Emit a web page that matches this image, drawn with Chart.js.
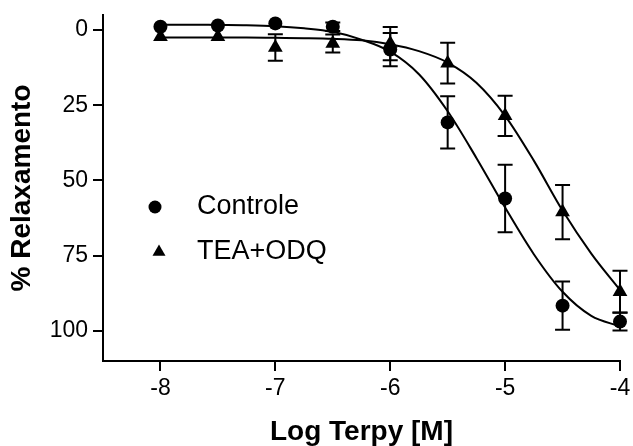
<!DOCTYPE html>
<html>
<head>
<meta charset="utf-8">
<script src="https://cdn.jsdelivr.net/npm/chart.js@4/dist/chart.umd.min.js"></script>
<style>
  html, body { margin: 0; padding: 0; background: #ffffff; }
  #wrap { width: 633px; height: 446px; position: relative; }
</style>
</head>
<body>
<div id="wrap"><canvas id="c" width="633" height="446"></canvas></div>
<script>
// ---------- data ----------
const logConc = [-8, -7.5, -7, -6.5, -6, -5.5, -5, -4.5, -4];
const controleMean = [-1.1, -1.5, -2.2, -1.1, 6.5, 30.7, 56.0, 91.6, 96.9];
const controleSem  = [0, 0, 0, 1.4, 5.5, 8.7, 11.2, 8.0, 3.0];
const teaOdqMean   = [2.2, 2.2, 5.8, 4.5, 4.5, 11.0, 28.5, 60.5, 87.0];
const teaOdqSem    = [0, 0, 4.4, 3.0, 5.5, 6.8, 6.7, 9.0, 7.0];

// fitted curves
const curveX = [-8, -7.75, -7.5, -7.25, -7, -6.75, -6.5, -6.25, -6, -5.75, -5.5, -5.25, -5, -4.75, -4.5, -4.25, -4];
const controleFit = [-1.8, -1.8, -1.7, -1.6, -1.3, -0.6, 0.6, 3.2, 7.2, 14.7, 27.0, 42.5, 59.0, 74.5, 87.0, 95.0, 98.5];
const teaOdqFit   = [2.5, 2.5, 2.5, 2.5, 2.6, 2.7, 2.9, 3.4, 4.7, 7.0, 10.8, 17.5, 28.5, 43.4, 60.0, 74.3, 86.4];

const xTicks = [-8, -7, -6, -5, -4];
const yTicks = [0, 25, 50, 75, 100];
const seriesLabels = ['Controle', 'TEA+ODQ'];
const xTitle = 'Log Terpy [M]';
const yTitle = '% Relaxamento';

// ---------- rendering ----------
const FONT = '"Liberation Sans", Arial, sans-serif';
const toPts = (xs, ys) => xs.map((x, i) => ({ x: x, y: ys[i] }));

const errorBarPlugin = {
  id: 'errorBars',
  beforeDatasetsDraw(chart) {
    const ctx = chart.ctx, xs = chart.scales.x, ys = chart.scales.y;
    ctx.save();
    ctx.strokeStyle = '#000';
    ctx.lineWidth = 2;
    chart.data.datasets.forEach((ds) => {
      if (!ds.sem) return;
      ds.data.forEach((p, j) => {
        const e = ds.sem[j];
        if (!e) return;
        const px = xs.getPixelForValue(p.x);
        const y1 = ys.getPixelForValue(p.y - e);
        const y2 = ys.getPixelForValue(p.y + e);
        ctx.beginPath();
        ctx.moveTo(px, y1); ctx.lineTo(px, y2);
        ctx.moveTo(px - 7.5, y1); ctx.lineTo(px + 7.5, y1);
        ctx.moveTo(px - 7.5, y2); ctx.lineTo(px + 7.5, y2);
        ctx.stroke();
      });
    });
    ctx.restore();
  }
};

const innerLegendPlugin = {
  id: 'innerLegend',
  afterDraw(chart) {
    const ctx = chart.ctx, area = chart.chartArea;
    const rows = [
      { label: seriesLabels[0], style: 'circle', mx: area.left + 52, y: area.top + 192 },
      { label: seriesLabels[1], style: 'triangle', mx: area.left + 56, y: area.top + 237 }
    ];
    ctx.save();
    ctx.fillStyle = '#000';
    rows.forEach(r => {
      ctx.beginPath();
      if (r.style === 'circle') {
        ctx.arc(r.mx, r.y, 6.5, 0, Math.PI * 2);
      } else {
        const rad = 7.5;
        ctx.moveTo(r.mx, r.y - rad);
        ctx.lineTo(r.mx + rad * Math.sin(Math.PI / 3), r.y + rad / 2);
        ctx.lineTo(r.mx - rad * Math.sin(Math.PI / 3), r.y + rad / 2);
        ctx.closePath();
      }
      ctx.fill();
      ctx.font = '27px ' + FONT;
      ctx.textAlign = 'left';
      ctx.textBaseline = 'middle';
      ctx.fillText(r.label, area.left + 94, r.y);
    });
    ctx.restore();
  }
};

const axisCommon = {
  type: 'linear',
  grid: { drawOnChartArea: false, drawTicks: true, tickLength: 10, color: '#000', lineWidth: 2 },
  border: { display: true, color: '#000', width: 2 }
};

new Chart(document.getElementById('c'), {
  data: {
    datasets: [
      { type: 'scatter', label: seriesLabels[0], data: toPts(logConc, controleMean), sem: controleSem,
        pointStyle: 'circle', pointRadius: 7, pointHoverRadius: 7,
        backgroundColor: '#000', borderColor: '#000', borderWidth: 0, order: 0 },
      { type: 'scatter', label: seriesLabels[1], data: toPts(logConc, teaOdqMean), sem: teaOdqSem,
        pointStyle: 'triangle', pointRadius: 8.5, pointHoverRadius: 8.5,
        backgroundColor: '#000', borderColor: '#000', borderWidth: 0, order: 0 },
      { type: 'line', label: seriesLabels[0] + ' fit', data: toPts(curveX, controleFit),
        borderColor: '#000', borderWidth: 2, pointRadius: 0, fill: false,
        cubicInterpolationMode: 'monotone', order: 1 },
      { type: 'line', label: seriesLabels[1] + ' fit', data: toPts(curveX, teaOdqFit),
        borderColor: '#000', borderWidth: 2, pointRadius: 0, fill: false,
        cubicInterpolationMode: 'monotone', order: 1 }
    ]
  },
  options: {
    responsive: false,
    animation: false,
    devicePixelRatio: 1,
    clip: false,
    layout: { padding: { top: 15, right: 13, left: 0, bottom: 0 } },
    plugins: { legend: { display: false }, tooltip: { enabled: false } },
    scales: {
      x: Object.assign({}, axisCommon, {
        min: -8.5, max: -4,
        afterBuildTicks: (s) => { s.ticks = xTicks.map(v => ({ value: v })); },
        afterFit: (s) => { s.height = 85; s.paddingLeft = 0; s.paddingRight = 0; s.paddingTop = 0; s.paddingBottom = 0; },
        ticks: { color: '#000', font: { family: FONT, size: 23 }, padding: 4, maxRotation: 0, autoSkip: false },
        title: { display: true, text: xTitle, color: '#000', font: { family: FONT, size: 28, weight: 'bold', lineHeight: 1 }, padding: { top: 0, bottom: 0 } }
      }),
      y: Object.assign({}, axisCommon, {
        reverse: true, min: -5, max: 110,
        afterBuildTicks: (s) => { s.ticks = yTicks.map(v => ({ value: v })); },
        afterFit: (s) => { s.width = 103; s.paddingLeft = 0; s.paddingRight = 0; s.paddingTop = 0; s.paddingBottom = 0; },
        ticks: { color: '#000', font: { family: FONT, size: 23 }, padding: 5, autoSkip: false },
        title: { display: true, text: yTitle, color: '#000', font: { family: FONT, size: 28, weight: 'bold', lineHeight: 1 }, padding: { top: 8, bottom: 0 } }
      })
    }
  },
  plugins: [errorBarPlugin, innerLegendPlugin]
});
</script>
</body>
</html>
